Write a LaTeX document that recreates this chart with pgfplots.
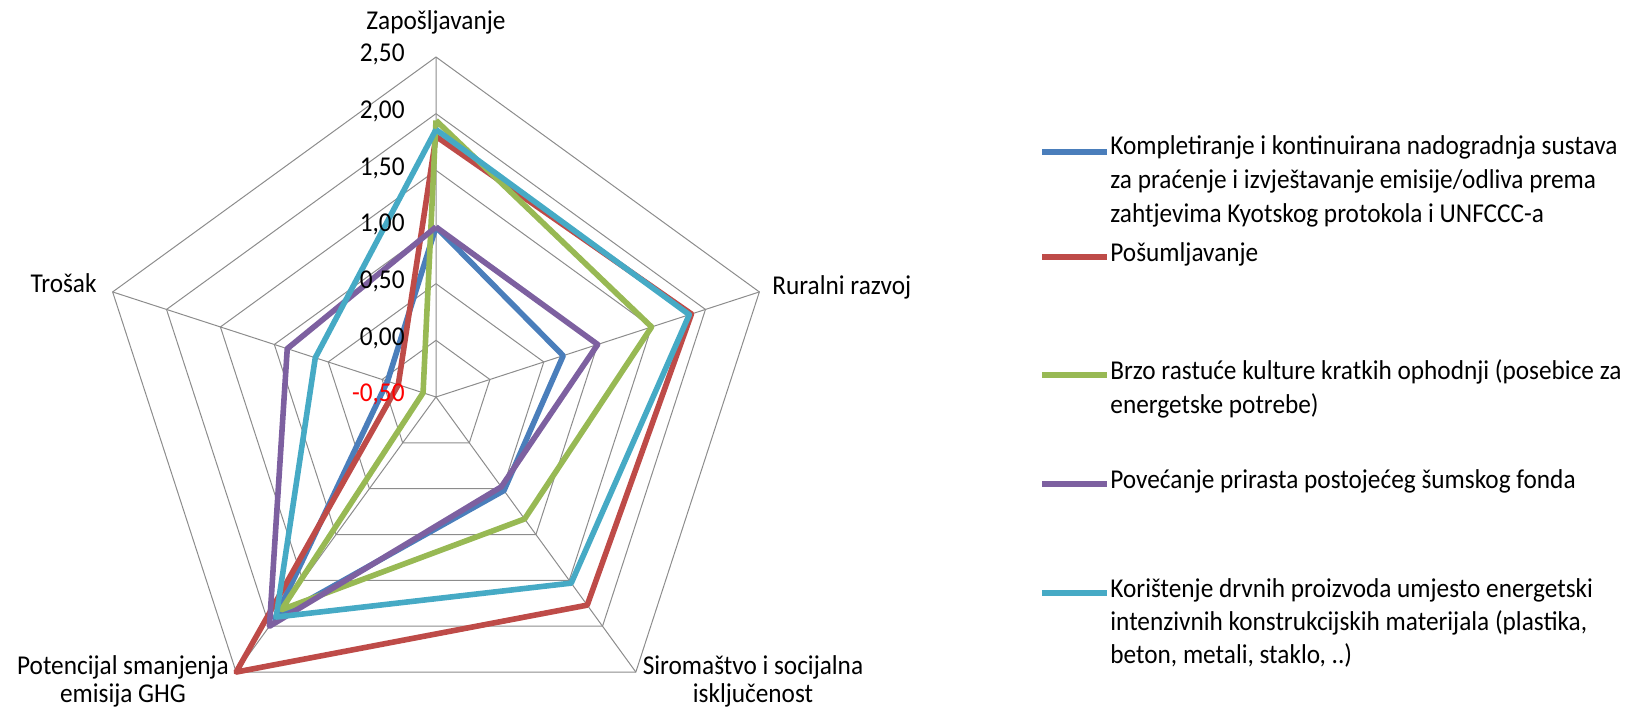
\documentclass[border=0pt]{standalone}
\usepackage{fontspec}
\setmainfont{Carlito}[FakeStretch=0.93]
\usepackage{pgfplots}
\usepackage{pgfplotstable}
\pgfplotsset{compat=1.18}

\definecolor{s1}{HTML}{4A7EBB}
\definecolor{s2}{HTML}{BE4B48}
\definecolor{s3}{HTML}{98B954}
\definecolor{s4}{HTML}{7D60A0}
\definecolor{s5}{HTML}{46AAC5}
\definecolor{gridc}{RGB}{140,140,140}

\tikzset{lbl/.style={inner sep=0pt, text height=0.7em, text depth=0.2em,
         font=\fontsize{13.6bp}{16bp}\selectfont}}

% angle of each spoke, then one column per series (last row closes the polygon)
\pgfplotstableread{
a    v1    v2    v3    v4    v5
90   1.00  1.80  1.94  1.00  1.86
18   0.68  1.87  1.50  1.00  1.85
-54  0.52  1.77  0.83  0.48  1.53
-126 1.92  2.50  1.82  2.00  1.90
162  -0.05 -0.15 -0.38 0.88  0.62
90   1.00  1.80  1.94  1.00  1.86
}\radar

\pgfplotstableread{
a    r
90   0
90   3
18   0
18   3
-54  0
-54  3
-126 0
-126 3
162  0
162  3
}\spokes

% centre of the web at (436,397), 113.33 units per 1.0 of value
\newcommand\series[2]{%
  \addplot[#1] table[
    x expr={436+113.33*(\thisrow{#2}+0.5)*cos(\thisrow{a})},
    y expr={397-113.33*(\thisrow{#2}+0.5)*sin(\thisrow{a})}]{\radar};}

\begin{document}
\begin{tikzpicture}
\begin{axis}[
  x=0.5bp, y=0.5bp,
  xmin=0, xmax=1631, ymin=0, ymax=709,
  y dir=reverse,
  hide axis, clip=false,
  every axis plot/.append style={line width=2.8bp, line join=round, mark=none},
]
\path (axis cs:0,0) rectangle (axis cs:1631,709);

% web
\pgfplotsinvokeforeach{0.5,1,1.5,2,2.5,3}{
  \addplot[gridc, line width=0.5bp, forget plot] table[
    x expr={436+113.33*#1*cos(\thisrow{a})},
    y expr={397-113.33*#1*sin(\thisrow{a})}]{\radar};
}
\addplot[gridc, line width=0.5bp, forget plot] table[
  x expr={436+113.33*\thisrow{r}*cos(\thisrow{a})},
  y expr={397-113.33*\thisrow{r}*sin(\thisrow{a})}]{\spokes};

\series{s1}{v1}
\series{s2}{v2}
\series{s3}{v3}
\series{s4}{v4}
\series{s5}{v5}

% radial tick labels
\node[lbl, anchor=east] at (axis cs:405,57) {2,50};
\node[lbl, anchor=east] at (axis cs:405,113.7) {2,00};
\node[lbl, anchor=east] at (axis cs:405,170.3) {1,50};
\node[lbl, anchor=east] at (axis cs:405,227) {1,00};
\node[lbl, anchor=east] at (axis cs:405,283.7) {0,50};
\node[lbl, anchor=east] at (axis cs:405,340.3) {0,00};
\node[lbl, anchor=east, text=red] at (axis cs:405,397) {-0,50};

% category labels
\node[lbl] at (axis cs:436,25) {Zapošljavanje};
\node[lbl, anchor=west] at (axis cs:772,290) {Ruralni razvoj};
\node[lbl] at (axis cs:753,670) {Siromaštvo i socijalna};
\node[lbl] at (axis cs:753,698) {isključenost};
\node[lbl] at (axis cs:123,670) {Potencijal smanjenja};
\node[lbl] at (axis cs:123,698) {emisija GHG};
\node[lbl, anchor=east] at (axis cs:97,288) {Trošak};

% legend
\draw[s1, line width=2.8bp] (axis cs:1042,152) -- (axis cs:1107,152);
\node[lbl, anchor=west] at (axis cs:1110,150) {Kompletiranje i kontinuirana nadogradnja sustava};
\node[lbl, anchor=west] at (axis cs:1110,184) {za praćenje i izvještavanje emisije/odliva prema};
\node[lbl, anchor=west] at (axis cs:1110,218) {zahtjevima Kyotskog protokola i UNFCCC-a};

\draw[s2, line width=2.8bp] (axis cs:1042,257) -- (axis cs:1107,257);
\node[lbl, anchor=west] at (axis cs:1110,257) {Pošumljavanje};

\draw[s3, line width=2.8bp] (axis cs:1042,375) -- (axis cs:1107,375);
\node[lbl, anchor=west] at (axis cs:1110,375) {Brzo rastuće kulture kratkih ophodnji (posebice za};
\node[lbl, anchor=west] at (axis cs:1110,409) {energetske potrebe)};

\draw[s4, line width=2.8bp] (axis cs:1042,484) -- (axis cs:1107,484);
\node[lbl, anchor=west] at (axis cs:1110,484) {Povećanje prirasta postojećeg šumskog fonda};

\draw[s5, line width=2.8bp] (axis cs:1042,593) -- (axis cs:1107,593);
\node[lbl, anchor=west] at (axis cs:1110,593) {Korištenje drvnih proizvoda umjesto energetski};
\node[lbl, anchor=west] at (axis cs:1110,626) {intenzivnih konstrukcijskih materijala (plastika,};
\node[lbl, anchor=west] at (axis cs:1110,659) {beton, metali, staklo, ..)};
\end{axis}
\end{tikzpicture}
\end{document}
